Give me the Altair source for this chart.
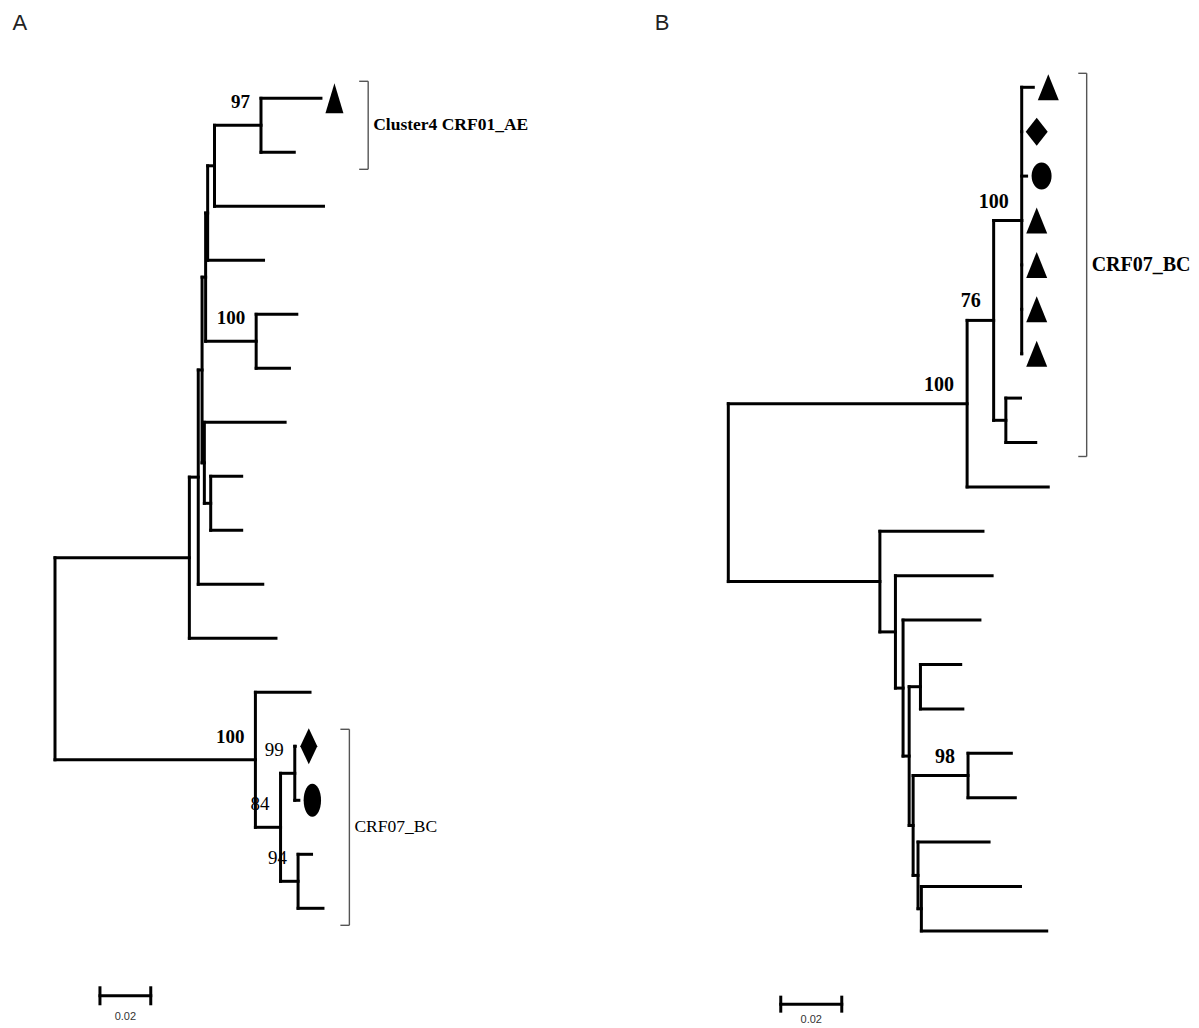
import altair as alt
import pandas as pd

# ---------------- data: panel A tree ----------------
A_nodes = ["rootA", "U1", "U2", "U3", "U4", "U6", "U7", "N97", "a0", "a1", "a2", "a3",
           "N100a", "a4", "a5", "U5", "a6", "S", "a7", "a8", "a9", "a10",
           "L100", "a11", "N84", "N99", "a12", "a13", "N94", "a14", "a15"]
A_parent = [None, "rootA", "U1", "U2", "U3", "U4", "U6", "U7", "N97", "N97", "U7", "U6",
            "U4", "N100a", "N100a", "U3", "U5", "U5", "S", "S", "U2", "U1",
            "rootA", "L100", "L100", "N84", "N99", "N99", "N84", "N94", "N94"]
A_length = [0, 0.0529, 0.0035, 0.0015, 0.0014, 0.0008, 0.0027, 0.0183, 0.0236, 0.0131, 0.0429, 0.0220,
            0.0199, 0.0160, 0.0131, 0.0009, 0.0318, 0.0025, 0.0122, 0.0122, 0.0254, 0.0341,
            0.0789, 0.0215, 0.0099, 0.0056, 0.0002, 0.0016, 0.0069, 0.0053, 0.0098]
A_support_nodes = ["N97", "N100a", "L100", "N99", "N84", "N94"]
A_support_vals = ["97", "100", "100", "99", "84", "94"]
A_support_bold = [True, True, True, False, False, False]
A_marker_leaves = ["a0", "a12", "a13"]
A_marker_kinds = ["triangle", "diamond", "circle"]
A_clade_names = ["Cluster4 CRF01_AE", "CRF07_BC"]
A_clade_first = ["a0", "a12"]
A_clade_last = ["a1", "a15"]
A_clade_x = [0.1233, 0.1159]
A_clade_bold = [True, False]

# ---------------- data: panel B tree ----------------
B_nodes = ["rootB", "UB", "N76", "N100b", "b0", "b1", "b2", "b3", "b4", "b5", "b6",
           "NS", "b7", "b8", "b9",
           "L1", "b10", "L2", "b11", "L3", "b12", "L4", "SB", "b13", "b14",
           "L5", "N98", "b15", "b16", "L6", "b17", "L7", "b18", "b19"]
B_parent = [None, "rootB", "UB", "N76", "N100b", "N100b", "N100b", "N100b", "N100b", "N100b", "N100b",
            "N76", "NS", "NS", "UB",
            "rootB", "L1", "L1", "L2", "L2", "L3", "L3", "L4", "SB", "SB",
            "L4", "L5", "N98", "N98", "L5", "L6", "L6", "L7", "L7"]
B_length = [0, 0.0783, 0.0087, 0.0092, 0.0038, 0.0, 0.0016, 0.0, 0.0, 0.0, 0.0,
            0.0040, 0.0048, 0.0098, 0.0266,
            0.0497, 0.0338, 0.0051, 0.0317, 0.0025, 0.0252, 0.0020, 0.0037, 0.0132, 0.0139,
            0.0013, 0.0180, 0.0142, 0.0155, 0.0016, 0.0233, 0.0011, 0.0325, 0.0411]
B_support_nodes = ["UB", "N76", "N100b", "N98"]
B_support_vals = ["100", "76", "100", "98"]
B_marker_leaves = ["b0", "b1", "b2", "b3", "b4", "b5", "b6"]
B_marker_kinds = ["triangle", "diamond", "circle", "triangle", "triangle", "triangle", "triangle"]
B_clade_names = ["CRF07_BC"]
B_clade_first = ["b0"]
B_clade_last = ["b8"]
B_clade_x = [0.1175]

SCALE_LEN = 0.02
SCALE_LABEL = "0.02"

# ---------------- layout constants ----------------
W, H = 1183, 1008
FONT_SERIF = "Liberation Serif"
FONT_SANS = "Liberation Sans"


def layout(nodes, parent, length):
    idx = {n: i for i, n in enumerate(nodes)}
    children = {n: [] for n in nodes}
    for n, p in zip(nodes, parent):
        if p is not None:
            children[p].append(n)
    x, y = {}, {}
    counter = [0]

    def walk(n, px):
        x[n] = px + length[idx[n]]
        if children[n]:
            for c in children[n]:
                walk(c, x[n])
            y[n] = (y[children[n][0]] + y[children[n][-1]]) / 2.0
        else:
            y[n] = counter[0]
            counter[0] += 1

    walk(nodes[parent.index(None)], 0.0)
    return x, y, children


def ellipse(rx, ry):
    k = 0.5523
    return (f"M0,{-ry}C{k*rx},{-ry} {rx},{-k*ry} {rx},0"
            f"C{rx},{k*ry} {k*rx},{ry} 0,{ry}"
            f"C{-k*rx},{ry} {-rx},{k*ry} {-rx},0"
            f"C{-rx},{-k*ry} {-k*rx},{-ry} 0,{-ry}Z")


def panel(nodes, parent, length, support_nodes, support_vals, support_bold,
          marker_leaves, marker_kinds, clade_names, clade_first, clade_last, clade_x, clade_bold,
          px_unit, root_px, px_leaf, leaf0_px, shapes, mark_dx, lab_dx, lab_dy, lab_size,
          clade_size, scale_x0, scale_y, scale_lab_dy, letter, letter_xy, tick_px, cap_px):
    x, y, children = layout(nodes, parent, length)
    xs = alt.Scale(domain=[-root_px / px_unit, (W - root_px) / px_unit], nice=False, zero=False)
    ys = alt.Scale(domain=[-leaf0_px / px_leaf, (H - leaf0_px) / px_leaf], nice=False,
                   zero=False, reverse=True)
    X = lambda f: alt.X(f"{f}:Q", scale=xs, axis=None)
    Y = lambda f: alt.Y(f"{f}:Q", scale=ys, axis=None)

    segs = []
    for n, p in zip(nodes, parent):
        if p is not None:
            segs.append(dict(x=x[p], x2=x[n], y=y[n], y2=y[n]))
        if children[n]:
            segs.append(dict(x=x[n], x2=x[n], y=y[children[n][0]], y2=y[children[n][-1]]))
    # scale bar
    cap = cap_px / px_leaf
    bar = [dict(x=scale_x0, x2=scale_x0 + SCALE_LEN, y=scale_y, y2=scale_y),
           dict(x=scale_x0, x2=scale_x0, y=scale_y - cap, y2=scale_y + cap),
           dict(x=scale_x0 + SCALE_LEN, x2=scale_x0 + SCALE_LEN, y=scale_y - cap, y2=scale_y + cap)]
    layers = [
        alt.Chart(pd.DataFrame(segs + bar)).mark_rule(color="black", strokeWidth=3, strokeCap="square")
        .encode(x=X("x"), x2="x2", y=Y("y"), y2="y2")
    ]
    # brackets
    br = []
    lab = []
    ext = 0.315
    tick = tick_px / px_unit
    for name, f, l, bx, bold in zip(clade_names, clade_first, clade_last, clade_x, clade_bold):
        y0, y1 = y[f] - ext, y[l] + ext
        br += [dict(x=bx, x2=bx, y=y0, y2=y1), dict(x=bx - tick, x2=bx, y=y0, y2=y0),
               dict(x=bx - tick, x2=bx, y=y1, y2=y1)]
        lab.append(dict(x=bx, y=(y0 + y1) / 2, t=name, bold=bold))
    layers.append(alt.Chart(pd.DataFrame(br)).mark_rule(color="#555555", strokeWidth=1.4)
                  .encode(x=X("x"), x2="x2", y=Y("y"), y2="y2"))
    labdf = pd.DataFrame(lab)
    for bold in [True, False]:
        d = labdf[labdf.bold == bold]
        if len(d):
            layers.append(alt.Chart(d).mark_text(align="left", baseline="middle", dx=5,
                                                 font=FONT_SERIF, fontSize=clade_size,
                                                 fontWeight="bold" if bold else "normal", color="black")
                          .encode(x=X("x"), y=Y("y"), text="t:N"))
    # support values
    sup = pd.DataFrame(dict(x=[x[n] for n in support_nodes], y=[y[n] for n in support_nodes],
                            t=support_vals, bold=support_bold))
    for bold in [True, False]:
        d = sup[sup.bold == bold]
        if len(d):
            layers.append(alt.Chart(d).mark_text(align="right", baseline="middle", dx=lab_dx, dy=lab_dy,
                                                 font=FONT_SERIF, fontSize=lab_size,
                                                 fontWeight="bold" if bold else "normal", color="black")
                          .encode(x=X("x"), y=Y("y"), text="t:N"))
    # markers
    mk = pd.DataFrame(dict(x=[x[n] for n in marker_leaves], y=[y[n] for n in marker_leaves],
                           kind=marker_kinds))
    for kind, path in shapes.items():
        d = mk[mk.kind == kind]
        if len(d):
            layers.append(alt.Chart(d).mark_point(shape=path, size=4, filled=True, color="black",
                                                  opacity=1, strokeWidth=0, xOffset=mark_dx)
                          .encode(x=X("x"), y=Y("y")))
    # scale label
    layers.append(alt.Chart(pd.DataFrame([dict(x=scale_x0 + SCALE_LEN / 2, y=scale_y, t=SCALE_LABEL)]))
                  .mark_text(baseline="middle", dy=scale_lab_dy, font=FONT_SANS, fontSize=11, color="#333333")
                  .encode(x=X("x"), y=Y("y"), text="t:N"))
    # panel letter
    layers.append(alt.Chart(pd.DataFrame([dict(x=letter_xy[0], y=letter_xy[1], t=letter)]))
                  .mark_text(baseline="middle", font=FONT_SANS, fontSize=22, color="#222222")
                  .encode(x=X("x"), y=Y("y"), text="t:N"))
    return layers


shapes_A = {"triangle": "M0,-15L9,15L-9,15Z", "diamond": "M0,-18L8.5,0L0,18L-8.5,0Z",
            "circle": ellipse(8.7, 16.5)}
shapes_B = {"triangle": "M0,-13L10.5,13L-10.5,13Z", "diamond": "M0,-14L11,0L0,14L-11,0Z",
            "circle": ellipse(10, 13.5)}

layersA = panel(A_nodes, A_parent, A_length, A_support_nodes, A_support_vals, A_support_bold,
                A_marker_leaves, A_marker_kinds, A_clade_names, A_clade_first, A_clade_last,
                A_clade_x, A_clade_bold,
                px_unit=2540, root_px=47, px_leaf=54, leaf0_px=90.3, shapes=shapes_A, mark_dx=13.5,
                lab_dx=-11, lab_dy=-23, lab_size=19, clade_size=17.5,
                scale_x0=0.0177, scale_y=16.62, scale_lab_dy=21, letter="A",
                letter_xy=(-0.0138, -1.394), tick_px=9, cap_px=8)
layersB = panel(B_nodes, B_parent, B_length, B_support_nodes, B_support_vals, [True] * 4,
                B_marker_leaves, B_marker_kinds, B_clade_names, B_clade_first, B_clade_last,
                B_clade_x, [True],
                px_unit=3050, root_px=720.3, px_leaf=44.4, leaf0_px=79.3, shapes=shapes_B, mark_dx=15,
                lab_dx=-13, lab_dy=-19, lab_size=20, clade_size=20,
                scale_x0=0.0172, scale_y=20.65, scale_lab_dy=16, letter="B",
                letter_xy=(-0.0217, -1.448), tick_px=8.4, cap_px=7)

chart = (alt.layer(*(layersA + layersB))
         .resolve_scale(x="independent", y="independent")
         .properties(width=W, height=H, padding=0, background="white")
         .configure_view(stroke=None))

chart.save("out.html", embed_options={"renderer": "svg", "actions": False})
